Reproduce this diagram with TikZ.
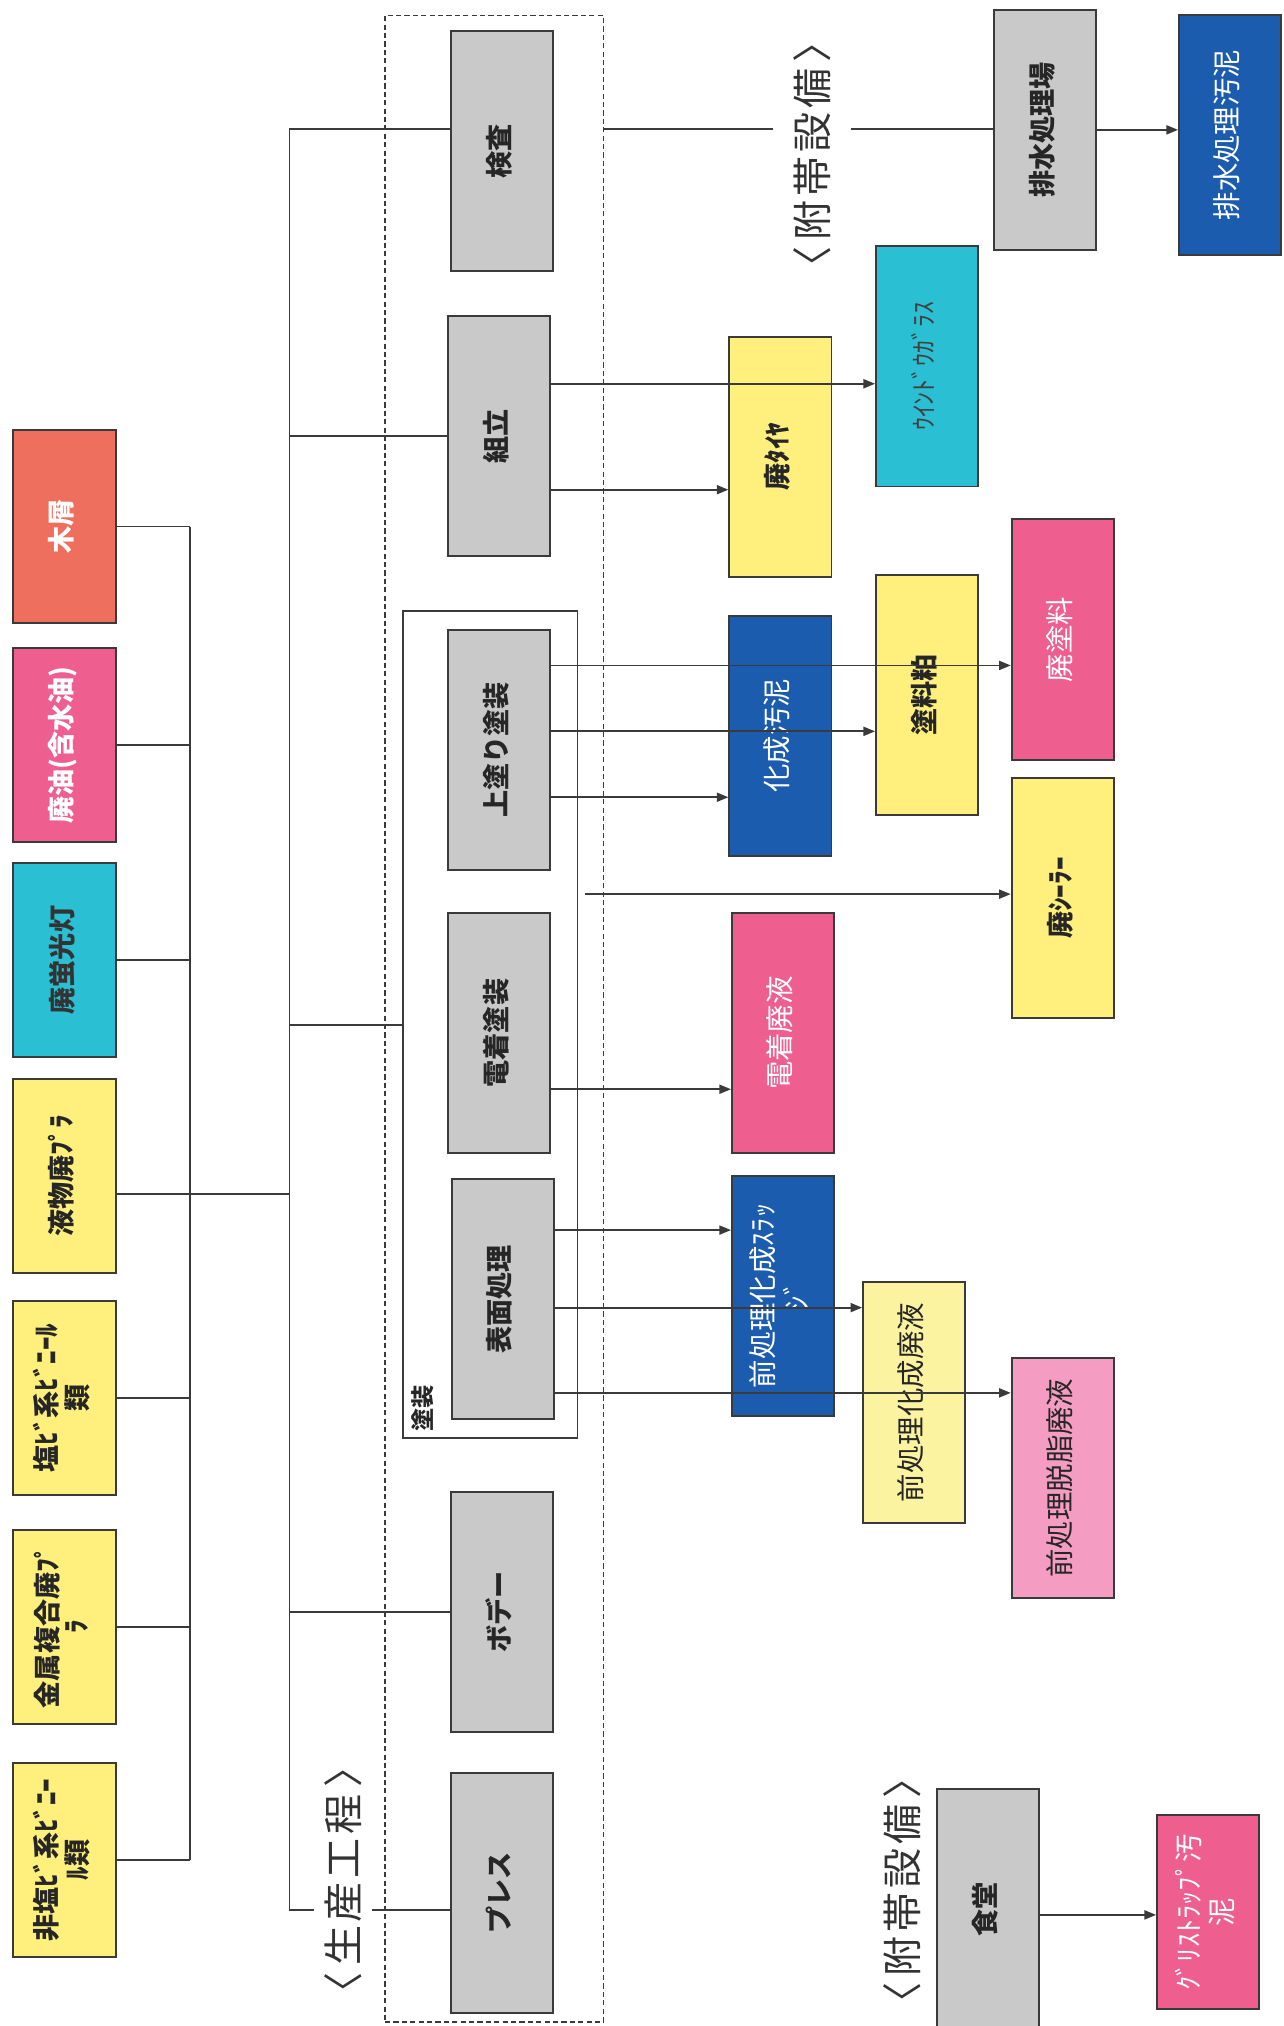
\documentclass[tikz,border=0pt]{standalone}
\usepackage{fontspec}
\setmainfont{Noto Sans CJK JP}
\usepackage{graphicx}
\usetikzlibrary{arrows.meta,calc}

\definecolor{boxgray}{HTML}{C9C9C9}
\definecolor{wasteyellow}{HTML}{FFF07D}
\definecolor{paleyellow}{HTML}{FBF3A0}
\definecolor{woodred}{HTML}{EF6F5F}
\definecolor{oilpink}{HTML}{EE5F8F}
\definecolor{lampcyan}{HTML}{2BBFD3}
\definecolor{sludgeblue}{HTML}{1B5CAE}
\definecolor{palepink}{HTML}{F59CC2}
\definecolor{linegray}{HTML}{3A3A3A}

\newcommand{\vtext}[1]{\rotatebox{90}{\begin{tabular}{@{}c@{}}#1\end{tabular}}}
\newcommand{\vtitle}[4]{\rotatebox{90}{〈\hspace{5pt}#1\hspace{3pt}#2\hspace{3pt}#3\hspace{3pt}#4\hspace{5pt}〉}}

\begin{document}
\begin{tikzpicture}[x=1pt,y=-1pt,
  every node/.style={inner sep=0pt},
  box/.style={draw=linegray,line width=1.5pt,minimum width=79pt,minimum height=186pt},
  leftbox/.style={box,minimum width=80pt,minimum height=150pt,font=\fontsize{21}{22}\selectfont\bfseries},
  procbox/.style={box,fill=boxgray,text=black!85,font=\fontsize{21}{22}\selectfont\bfseries},
  darkbox/.style={box,text=black!85,font=\fontsize{21}{22}\selectfont\bfseries},
  lightbox/.style={box,text=white,font=\fontsize{22}{24}\selectfont},
  link/.style={draw=linegray,line width=1.4pt},
  arr/.style={link,-{Triangle[length=9pt,width=7pt]}},
  title/.style={fill=white,inner xsep=8pt,inner ysep=2pt,text=black!80,font=\fontsize{31}{33}\selectfont}]

\useasboundingbox (0,0) rectangle (993,1568);

% production process group
\node (grp) [draw=linegray,line width=1.1pt,dash pattern=on 4pt off 2.5pt,minimum width=169pt,minimum height=1553pt] at (382.5,788.5) {};
\node (tosou) [draw=linegray,line width=1.4pt,minimum width=135pt,minimum height=640pt] at (379.5,793) {};
\node (tosoulbl) [anchor=south west,text=black!85,font=\fontsize{18}{20}\selectfont\bfseries] at (318,1108) {\rotatebox{90}{塗装}};

\node (kensa) [procbox] at (388.5,117) {\vtext{検査}};
\node (kumitate) [procbox] at (386,337.5) {\vtext{組立}};
\node (uwanuri) [procbox] at (386,580.5) {\vtext{上塗り塗装}};
\node (dentyaku) [procbox] at (386,799.5) {\vtext{電着塗装}};
\node (hyoumen) [procbox] at (389,1005.5) {\vtext{表面処理}};
\node (body) [procbox] at (388.5,1247.5) {\vtext{ボデー}};
\node (press) [procbox] at (388.5,1465) {\vtext{プレス}};

% common waste
\node (mokuzu) [leftbox,fill=woodred,text=white] at (50,407.5) {\vtext{木屑}};
\node (haiyu) [leftbox,fill=oilpink,text=white] at (50,576.5) {\vtext{廃油(含水油)}};
\node (keikou) [leftbox,fill=lampcyan,text=black!80] at (50,743) {\vtext{廃蛍光灯}};
\node (ekibutsu) [leftbox,fill=wasteyellow,text=black!85] at (50,910) {\vtext{液物廃ﾌﾟﾗ}};
\node (enbi) [leftbox,fill=wasteyellow,text=black!85] at (50,1082) {\vtext{塩ﾋﾞ系ﾋﾞﾆｰﾙ\\類}};
\node (kinzoku) [leftbox,fill=wasteyellow,text=black!85] at (50,1259) {\vtext{金属複合廃ﾌﾟ\\ﾗ}};
\node (hienbi) [leftbox,fill=wasteyellow,text=black!85] at (50,1439.5) {\vtext{非塩ﾋﾞ系ﾋﾞﾆｰ\\ﾙ類}};

% waste from each process
\node (haisuijo) [procbox] at (809,100.5) {\vtext{排水処理場}};
\node (haisuiodei) [lightbox,fill=sludgeblue] at (952,104.5) {\vtext{排水処理汚泥}};
\node (taiya) [darkbox,fill=wasteyellow] at (604,353.5) {\vtext{廃ﾀｲﾔ}};
\node (glass) [box,fill=lampcyan,text=black!75,font=\fontsize{20}{22}\selectfont] at (717.5,283.5) {\vtext{ｳｲﾝﾄﾞｳｶﾞﾗｽ}};
\node (kasei) [lightbox,fill=sludgeblue] at (604,569.5) {\vtext{化成汚泥}};
\node (kasu) [darkbox,fill=wasteyellow] at (717.5,538) {\vtext{塗料粕}};
\node (haitoryo) [lightbox,fill=oilpink] at (822.5,495) {\vtext{廃塗料}};
\node (sealer) [darkbox,fill=wasteyellow] at (822.5,695) {\vtext{廃ｼｰﾗｰ}};
\node (denhai) [lightbox,fill=oilpink] at (606,799.5) {\vtext{電着廃液}};
\node (sludge) [lightbox,fill=sludgeblue] at (606,1003) {\vtext{前処理化成ｽﾗｯ\\ｼﾞ}};
\node (maekasei) [box,fill=paleyellow,text=black!85,font=\fontsize{22}{24}\selectfont] at (707.5,1085.5) {\vtext{前処理化成廃液}};
\node (dasshi) [box,fill=palepink,text=black!85,font=\fontsize{22}{24}\selectfont] at (822.5,1144) {\vtext{前処理脱脂廃液}};
\node (shokudo) [procbox] at (764.5,1477.5) {\vtext{食堂}};
\node (grease) [lightbox,fill=oilpink,minimum height=150pt] at (935,1480) {\vtext{ｸﾞﾘｽﾄﾗｯﾌﾟ汚\\泥}};

% buses
\coordinate (busL) at (147,0);
\coordinate (busM) at (224,0);
\foreach \n in {mokuzu,haiyu,keikou,enbi,kinzoku,hienbi}
  \draw[link] (\n.east) -- (\n.east -| busL);
\draw[link] (mokuzu.east -| busL) -- (hienbi.east -| busL);
\draw[link] ($(ekibutsu.east)+(0,14)$) coordinate (e1) -- (e1 -| busM);

\coordinate (k0) at ($(kensa.west)+(0,-17)$);
\coordinate (p0) at ($(press.west)+(0,13)$);
\draw[link] (k0 -| busM) -- (p0 -| busM);
\draw[link] (k0 -| busM) -- (k0);
\draw[link] (kumitate.west -| busM) -- (kumitate.west);
\draw[link] (tosou.west -| busM) -- (tosou.west);
\draw[link] (body.west -| busM) -- (body.west);
\draw[link] (p0 -| busM) -- (p0);

% flows
\draw[link] (k0 -| grp.east) -- (k0 -| haisuijo.west);
\draw[arr] (haisuijo.east) -- (haisuijo.east -| haisuiodei.west);
\draw[arr] ($(kumitate.east)+(0,-40.5)$) coordinate (a1) -- (a1 -| glass.west);
\draw[arr] ($(kumitate.east)+(0,41.5)$) coordinate (a2) -- (a2 -| taiya.west);
\draw[arr] ($(uwanuri.east)+(0,-65.5)$) coordinate (a3) -- (a3 -| haitoryo.west);
\draw[arr] ($(uwanuri.east)+(0,-14.5)$) coordinate (a4) -- (a4 -| kasu.west);
\draw[arr] ($(uwanuri.east)+(0,36.5)$) coordinate (a5) -- (a5 -| kasei.west);
\draw[arr] ($(tosou.east)+(5,-101)$) coordinate (a6) -- (a6 -| sealer.west);
\draw[arr] ($(dentyaku.east)+(0,43.5)$) coordinate (a7) -- (a7 -| denhai.west);
\draw[arr] ($(hyoumen.east)+(0,-53.5)$) coordinate (a8) -- (a8 -| sludge.west);
\draw[arr] ($(hyoumen.east)+(0,6.5)$) coordinate (a9) -- (a9 -| maekasei.west);
\draw[arr] ($(hyoumen.east)+(0,72.5)$) coordinate (a10) -- (a10 -| dasshi.west);
\draw[arr] ($(shokudo.east)+(0,4.5)$) coordinate (a11) -- (a11 -| grease.west);

% titles
\node (fuzoku1) [title,inner xsep=16pt] at (628.5,119.5) {\vtitle{附}{帯}{設}{備}};
\node (seisan) [title] at (265.5,1455) {\vtitle{生}{産}{工}{程}};
\node (fuzoku2) [title] at (698.5,1463) {\vtitle{附}{帯}{設}{備}};
\end{tikzpicture}
\end{document}
